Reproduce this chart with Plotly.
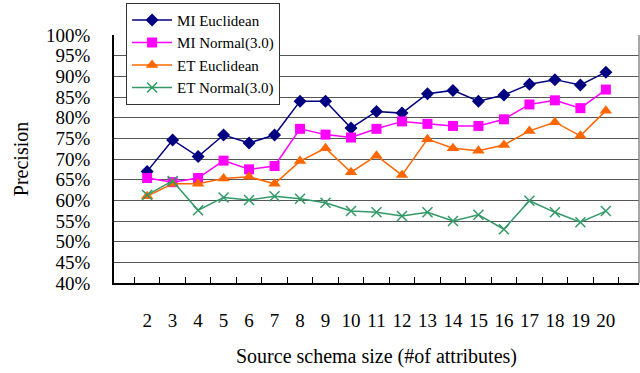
import plotly.graph_objects as go

sizes = [str(v) for v in range(2, 21)]
mi_euclidean = [67.0, 74.6, 70.6, 75.8, 73.9, 75.8, 84.0, 84.0, 77.5, 81.5, 81.1, 85.8, 86.6, 84.0, 85.5, 88.1, 89.2, 87.9, 91.0]
mi_normal = [65.4, 64.4, 65.4, 69.6, 67.5, 68.3, 77.3, 75.9, 75.2, 77.3, 79.1, 78.5, 78.0, 78.0, 79.6, 83.2, 84.2, 82.3, 86.8]
et_euclidean = [61.0, 64.0, 64.0, 65.3, 65.7, 64.0, 69.5, 72.6, 66.8, 70.8, 66.1, 74.8, 72.6, 72.0, 73.4, 76.8, 78.9, 75.6, 81.7]
et_normal = [61.3, 64.7, 57.6, 60.7, 60.1, 61.0, 60.4, 59.4, 57.4, 57.1, 56.2, 57.1, 55.0, 56.5, 53.0, 59.9, 57.1, 54.7, 57.4]
y_ticks = list(range(40, 101, 5))

series = [
    ("MI Euclidean", mi_euclidean, "#000080", "diamond", 10),
    ("MI Normal(3.0)", mi_normal, "#FF00FF", "square", 10),
    ("ET Euclidean", et_euclidean, "#FF6600", "triangle-up", 11),
    ("ET Normal(3.0)", et_normal, "#339966", "x-thin-open", 10),
]

fig = go.Figure()
for name, vals, color, sym, ms in series:
    marker = dict(symbol=sym, size=ms, color=color)
    if sym == "x-thin-open":
        marker["line"] = dict(color=color, width=1.5)
    fig.add_trace(go.Scatter(x=sizes, y=vals, name=name, mode="lines+markers",
                             line=dict(color=color, width=1.5), marker=marker))

font = "Liberation Serif"
fig.update_layout(
    width=640, height=373,
    margin=dict(l=114, r=1, t=35, b=90),
    paper_bgcolor="white", plot_bgcolor="white",
    font=dict(family=font, size=19, color="black"),
    showlegend=True,
    legend=dict(x=0.023, y=1.13, xanchor="left", yanchor="top",
                bgcolor="white", bordercolor="#333", borderwidth=1,
                font=dict(family=font, size=15), tracegroupgap=0,
                itemwidth=40),
    xaxis=dict(type="category", showline=True, linecolor="black", linewidth=1.5,
               ticks="inside", tickson="boundaries", ticklen=6, tickcolor="black",
               showgrid=False, ticklabelstandoff=19, tickangle=0,
               title=dict(text="Source schema size (#of attributes)", standoff=19,
                          font=dict(family=font, size=20))),
    yaxis=dict(range=[40, 100], tickvals=y_ticks, ticktext=[f"{v}%" for v in y_ticks],
               showline=True, linecolor="black", linewidth=1.5,
               showgrid=True, gridcolor="#555", gridwidth=1,
               ticks="", ticklabelstandoff=18,
               title=dict(text="Precision", standoff=12, font=dict(family=font, size=20))),
)
fig.add_shape(type="line", xref="paper", yref="paper", x0=1, x1=1, y0=0, y1=1,
              line=dict(color="#888", width=1.5))
fig.write_html("out.html")
